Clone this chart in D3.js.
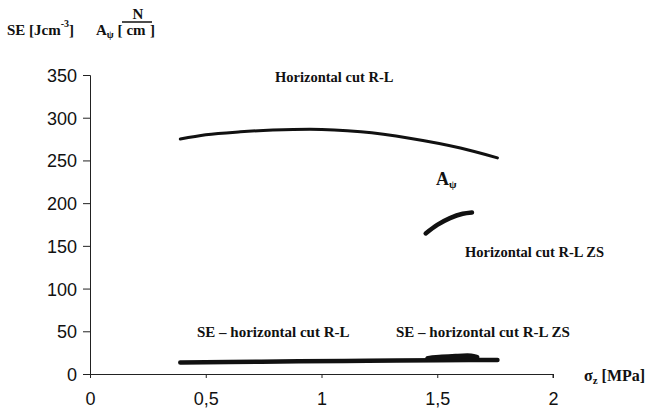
<!DOCTYPE html>
<html>
<head>
<meta charset="utf-8">
<script src="https://cdn.jsdelivr.net/npm/d3@7"></script>
<style>
  body { margin: 0; background: #fff; }
  svg { display: block; }
  .ann { font-family: "Liberation Serif", "Times New Roman", serif; font-weight: bold; fill: #111; }
  .tick text { font-family: "Liberation Sans", Arial, sans-serif; font-size: 18px; fill: #111; }
</style>
</head>
<body>
<svg id="root"></svg>
<script>
// Horizontal cut R-L (A_psi)
const rlSigma = [0.39, 0.5, 0.65, 0.79, 0.95, 1.17, 1.38, 1.6, 1.76]
const rlA = [275, 280, 283.5, 285.5, 286.5, 283.5, 276, 264.5, 253]
// Horizontal cut R-L ZS (A_psi)
const zsSigma = [1.45, 1.5, 1.555, 1.61, 1.65]
const zsA = [164.5, 174.5, 182.5, 187.5, 189]
// SE - horizontal cut R-L
const seRlSigma = [0.39, 0.6, 0.9, 1.2, 1.5, 1.76]
const seRl = [13.5, 14, 15, 15.5, 16, 16.5]
// SE - horizontal cut R-L ZS
const seZsSigma = [1.46, 1.52, 1.58, 1.63, 1.67]
const seZs = [18, 19.5, 20.5, 21, 19.5]

const xTicks = [0, 0.5, 1, 1.5, 2]
const yTicks = [0, 50, 100, 150, 200, 250, 300, 350]

const width = 654, height = 413

const svg = d3.select("#root").attr("width", width).attr("height", height)

const x = d3.scaleLinear([0, 2], [90, 553])
const y = d3.scaleLinear([0, 350], [374, 75])

// axes
const xAxis = d3.axisBottom(x).tickValues(xTicks).tickSize(4).tickPadding(14)
  .tickFormat(d => String(d).replace(".", ","))
const yAxis = d3.axisLeft(y).tickValues(yTicks).tickSize(7).tickPadding(6)

svg.append("g")
  .attr("transform", `translate(0,${y(0)})`)
  .call(xAxis)
  .call(g => g.select(".domain").attr("stroke", "#222").attr("d", `M85,0.5H${x(2)}V4`))
  .call(g => g.selectAll(".tick line").attr("stroke", "#222"))

svg.append("g")
  .attr("transform", `translate(${x(0)},0)`)
  .call(yAxis)
  .call(g => g.select(".domain").attr("stroke", "#222"))
  .call(g => g.selectAll(".tick line").attr("stroke", "#222"))
  .call(g => g.selectAll(".tick text").attr("dy", "0.36em"))

// curves
function drawLine(xs, ys, w) {
  const line = d3.line()
    .x(d => x(d[0]))
    .y(d => y(d[1]))
    .curve(d3.curveMonotoneX)
  svg.append("path")
    .datum(d3.zip(xs, ys))
    .attr("fill", "none")
    .attr("stroke", "#111")
    .attr("stroke-width", w)
    .attr("stroke-linecap", "round")
    .attr("d", line)
}

drawLine(rlSigma, rlA, 3)
drawLine(zsSigma, zsA, 4.5)
drawLine(seRlSigma, seRl, 4.5)
drawLine(seZsSigma, seZs, 5.5)

// annotations
function label(txt, px, py, size) {
  svg.append("text").attr("class", "ann")
    .attr("x", px).attr("y", py)
    .style("font-size", size + "px")
    .text(txt)
}
label("Horizontal cut R-L", 275, 82, 14.5)
label("Horizontal cut R-L ZS", 465, 257, 14.5)
label("SE \u2013 horizontal cut R-L", 197, 337, 15)
label("SE \u2013 horizontal cut R-L ZS", 396, 337, 15)

// A_psi near the ZS curve
const apsi = svg.append("text").attr("class", "ann").attr("x", 436).attr("y", 185).style("font-size", "18px")
apsi.append("tspan").text("A")
apsi.append("tspan").attr("dy", 3).style("font-size", "11px").text("\u03c8")

// x axis title
const xt = svg.append("text").attr("class", "ann").attr("x", 584).attr("y", 381).style("font-size", "16px")
xt.append("tspan").text("\u03c3")
xt.append("tspan").attr("dy", 3).style("font-size", "11px").text("z")
xt.append("tspan").attr("dy", -3).text(" [MPa]")

// y axis title
const yt = svg.append("text").attr("class", "ann").attr("x", 7).attr("y", 35).style("font-size", "15px")
yt.append("tspan").text("SE [Jcm")
yt.append("tspan").attr("dy", -8).style("font-size", "10px").text("-3")
yt.append("tspan").attr("dy", 8).text("]")
const at = svg.append("text").attr("class", "ann").attr("x", 96).attr("y", 35).style("font-size", "15px")
at.append("tspan").text("A")
at.append("tspan").attr("dy", 3).style("font-size", "10px").text("\u03c8")
at.append("tspan").attr("dy", -3).text(" [")
svg.append("text").attr("class", "ann").attr("x", 138).attr("y", 19)
  .attr("text-anchor", "middle").style("font-size", "15px").text("N")
svg.append("line").attr("x1", 122).attr("x2", 152).attr("y1", 22).attr("y2", 22)
  .attr("stroke", "#111").attr("stroke-width", 1.5)
svg.append("text").attr("class", "ann").attr("x", 136).attr("y", 35)
  .attr("text-anchor", "middle").style("font-size", "15px").text("cm")
svg.append("text").attr("class", "ann").attr("x", 150).attr("y", 35)
  .style("font-size", "15px").text("]")
</script>
</body>
</html>
